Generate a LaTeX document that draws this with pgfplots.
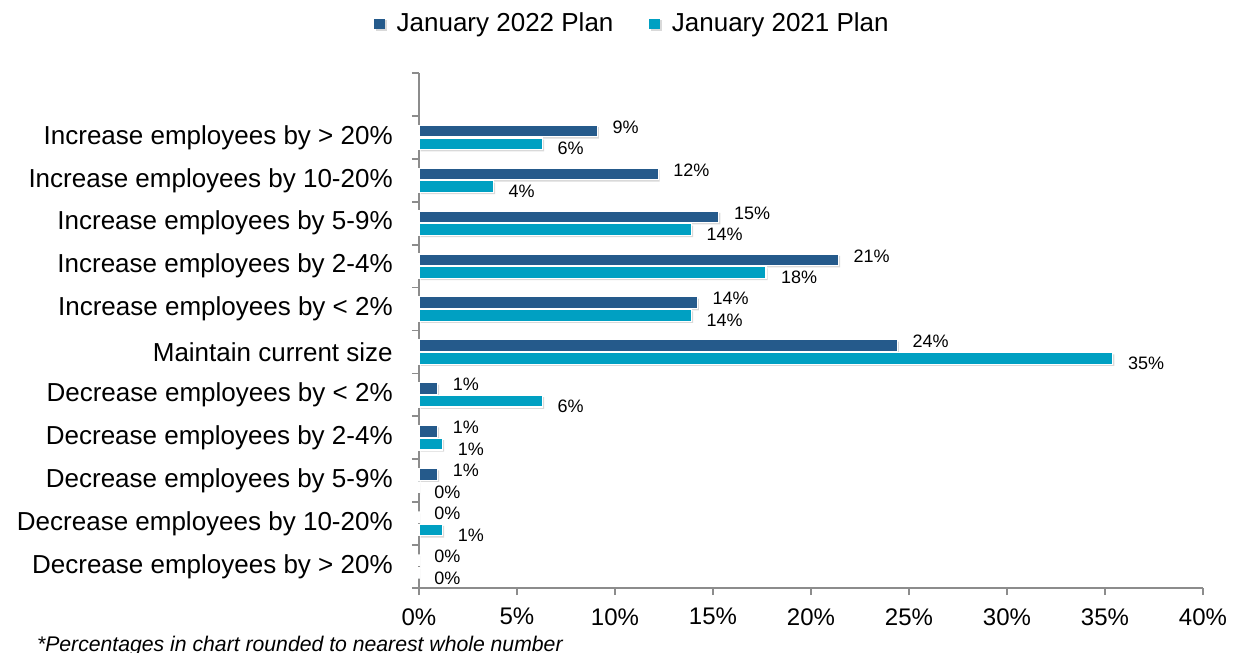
\documentclass[border=0pt]{standalone}
\usepackage{fontspec}
\setmainfont{Liberation Sans}
\usepackage{pgfplots}
\pgfplotsset{compat=1.18}
\definecolor{plan22}{HTML}{255A8B}
\definecolor{plan21}{HTML}{00A0C2}
\definecolor{axgray}{HTML}{8C8C8C}

\begin{document}
\begin{tikzpicture}
\useasboundingbox (-209.5pt,-32.5pt) rectangle (407pt,294pt);
\begin{axis}[
  at={(0,0)}, anchor=south west,
  scale only axis, width=392pt, height=257.5pt,
  xbar, bar width=0.27,
  xmin=0, xmax=40, ymin=-0.5, ymax=11.5,
  clip=false,
  axis x line*=bottom, axis y line*=left,
  axis line style={axgray, line width=0.9pt, -},
  tick align=outside,
  major tick length=3.6pt,
  tick style={axgray, line width=0.9pt},
  xtick={0,5,...,40},
  xticklabels={0\%,5\%,10\%,15\%,20\%,25\%,30\%,35\%,40\%},
  ytick={-0.5,0.5,...,11.5},
  y tick label as interval,
  yticklabels={Decrease employees by > 20\%,
    Decrease employees by 10-20\%,
    Decrease employees by 5-9\%,
    Decrease employees by 2-4\%,
    Decrease employees by < 2\%,
    Maintain current size,
    Increase employees by < 2\%,
    Increase employees by 2-4\%,
    Increase employees by 5-9\%,
    Increase employees by 10-20\%,
    Increase employees by > 20\%,
    {}},
  x tick label style={font=\fontsize{12}{14}\selectfont, yshift=-3pt},
  y tick label style={font=\fontsize{13}{15}\selectfont, xshift=-6pt},
  point meta=x,
  nodes near coords={\pgfmathprintnumber[fixed,precision=0]{\pgfplotspointmeta}\%},
  every node near coord/.append style={font=\fontsize{9}{10}\selectfont, text=black, xshift=4pt},
  /pgf/number format/assume math mode=true,
  legend image code/.code={\fill[#1,draw=none] (0pt,-2.7pt) rectangle (5.4pt,2.7pt);
    \path (8.9pt,0pt);},
  legend style={draw=none, fill=none, at={(0.2736,1.0951)}, anchor=center,
    font=\fontsize{13}{15}\selectfont, legend columns=2,
    /tikz/every even column/.append style={column sep=16pt}},
]
\addplot[fill=plan22, draw=white, line width=0.6pt, bar shift=0.148,
  preaction={fill=black, draw=none, opacity=0.15, transform canvas={xshift=0.8pt,yshift=-0.9pt}},
  every node near coord/.append style={yshift=2pt}] coordinates {
  (9.1,10) (12.2,9) (15.3,8) (21.4,7) (14.2,6) (24.4,5)
  (0.95,4) (0.95,3) (0.95,2) (0,1) (0,0)};
\addlegendentry{January 2022 Plan}
\addplot[fill=plan21, draw=white, line width=0.6pt, bar shift=-0.148,
  preaction={fill=black, draw=none, opacity=0.15, transform canvas={xshift=0.8pt,yshift=-0.9pt}},
  every node near coord/.append style={yshift=-2.5pt}] coordinates {
  (6.3,10) (3.8,9) (13.9,8) (17.7,7) (13.9,6) (35.4,5)
  (6.3,4) (1.2,3) (0,2) (1.2,1) (0,0)};
\addlegendentry{January 2021 Plan}
\end{axis}
\node[anchor=west, font=\fontsize{10.6}{12}\selectfont\itshape] at (-194.5pt,-29pt)
  {*Percentages in chart rounded to nearest whole number};
\end{tikzpicture}
\end{document}
